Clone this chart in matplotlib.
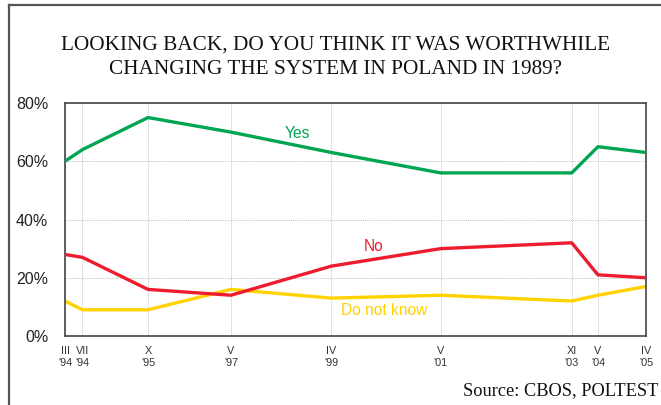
import matplotlib.pyplot as plt
from matplotlib.lines import Line2D

# survey waves (month as roman numeral, year)
months = ['III', 'VII', 'X', 'V', 'IV', 'V', 'XI', 'V', 'IV']
month_nums = [3, 7, 10, 5, 4, 5, 11, 5, 4]
years = [1994, 1994, 1995, 1997, 1999, 2001, 2003, 2004, 2005]

yes = [60, 64, 75, 70, 63, 56, 56, 65, 63]
no = [28, 27, 16, 14, 24, 30, 32, 21, 20]
dont_know = [12, 9, 9, 16, 13, 14, 12, 14, 17]

x = [y + (m - 1) / 12 for y, m in zip(years, month_nums)]
tick_labels = [f"{m}\n'{str(y)[2:]}" for m, y in zip(months, years)]

green = '#00a651'
red = '#ed1c2e'
yellow = '#ffd200'

fig = plt.figure(figsize=(6.61, 4.05), dpi=100)
ax = fig.add_axes([65 / 661, 69 / 405, 581 / 661, 233 / 405])

ax.plot(x, yes, color=green, lw=2.4, solid_joinstyle='round', zorder=3)
ax.plot(x, no, color=red, lw=2.4, solid_joinstyle='round', zorder=3)
ax.plot(x, dont_know, color=yellow, lw=2.4, solid_joinstyle='round', zorder=2)

ax.set_xlim(x[0], x[-1])
ax.set_ylim(0, 80)
ax.set_yticks([0, 20, 40, 60, 80])
ax.set_yticklabels(['0%', '20%', '40%', '60%', '80%'],
                   fontsize=11.5, family='Liberation Sans', color='#222222')
ax.set_xticks(x)
ax.set_xticklabels(tick_labels, fontsize=7.8, family='Liberation Sans',
                   color='#333333', linespacing=1.25)
ax.tick_params(axis='y', length=0, pad=12)
ax.tick_params(axis='x', length=0, pad=7)

ax.grid(True, color='#c4c4c4', linestyle=(0, (1, 1)), lw=0.7)
ax.set_axisbelow(True)
for s in ax.spines.values():
    s.set_color('#444444')
    s.set_linewidth(1.2)

ax.text(1998.6, 69.4, 'Yes', color=green, fontsize=11.2, family='Liberation Sans',
        ha='center', va='center')
ax.text(2000.05, 30.8, 'No', color=red, fontsize=11.2, family='Liberation Sans',
        ha='center', va='center')
ax.text(2000.25, 8.6, 'Do not know', color=yellow, fontsize=11.2,
        family='Liberation Sans', ha='center', va='center')

fig.text(0.508, 1 - 57 / 405,
         'LOOKING BACK, DO YOU THINK IT WAS WORTHWHILE\n'
         'CHANGING THE SYSTEM IN POLAND IN 1989?',
         ha='center', va='center', fontsize=15.3, family='Liberation Serif',
         linespacing=1.4, color='#111111')
fig.text(658 / 661, 1 - 391 / 405, 'Source: CBOS, POLTEST', ha='right',
         va='center', fontsize=13.2, family='Liberation Serif', color='#111111')

# frame on the left and top edges
fig.add_artist(Line2D([8.5 / 661, 8.5 / 661], [0, 1 - 4.5 / 405],
                      color='#555555', lw=1.6))
fig.add_artist(Line2D([8.5 / 661, 1], [1 - 4.5 / 405, 1 - 4.5 / 405],
                      color='#555555', lw=1.6))

fig.savefig('out.png', dpi=100)
